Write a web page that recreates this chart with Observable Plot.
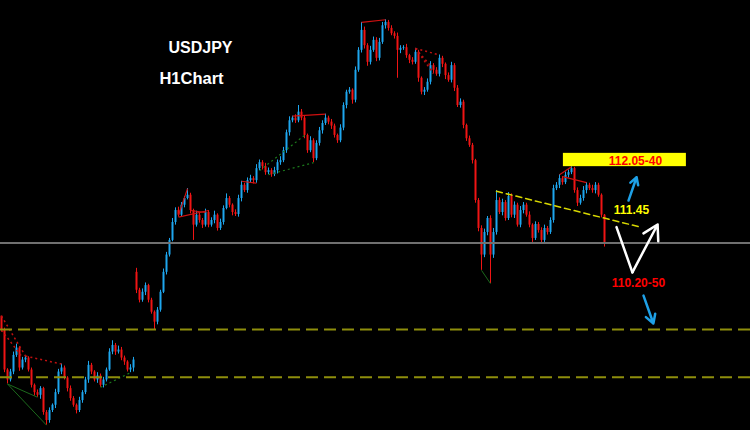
<!DOCTYPE html>
<html>
<head>
<meta charset="utf-8">
<script src="https://cdn.jsdelivr.net/npm/d3@7"></script>
<script src="https://cdn.jsdelivr.net/npm/@observablehq/plot@0.6"></script>
<style>
  html, body { margin: 0; padding: 0; background: #000; }
  #chart { width: 750px; height: 430px; overflow: hidden; }
</style>
</head>
<body>
<div id="chart"></div>
<script>
// USDJPY hourly closes, one per candle
const close = [
  109.65,109.05,108.90,109.02,109.27,109.38,109.08,109.20,109.23,109.05,
  108.82,108.71,108.67,108.77,108.41,108.29,108.44,108.52,108.71,109.02,
  109.08,108.93,108.77,108.62,108.52,108.44,108.59,108.71,108.90,109.12,
  109.02,108.90,108.96,108.82,108.90,109.05,109.32,109.42,109.32,109.35,
  109.23,109.17,109.05,109.08,109.20,110.25,110.10,110.22,110.32,110.10,
  109.92,109.77,109.95,110.22,110.52,110.78,111.00,111.27,111.45,111.38,
  111.53,111.63,111.68,111.45,111.23,111.38,111.30,111.23,111.42,111.23,
  111.30,111.38,111.18,111.27,111.48,111.63,111.53,111.42,111.39,111.63,
  111.83,111.75,111.90,111.93,111.90,112.08,112.17,112.11,112.02,112.05,
  111.99,112.05,112.17,112.20,112.35,112.62,112.80,112.84,112.80,112.93,
  112.84,112.58,112.35,112.50,112.23,112.46,112.65,112.76,112.84,112.78,
  112.72,112.58,112.50,112.69,113.03,113.23,113.26,113.11,113.56,113.86,
  114.16,113.93,113.68,113.86,114.01,113.74,113.98,114.23,114.28,114.19,
  114.11,114.07,113.86,113.89,113.90,113.78,113.71,113.68,113.83,113.44,
  113.23,113.26,113.38,113.63,113.56,113.50,113.74,113.65,113.48,113.41,
  113.63,113.29,113.03,113.08,112.73,112.53,112.43,112.20,111.60,111.18,
  110.78,111.12,111.33,110.78,111.12,111.60,111.42,111.57,111.33,111.66,
  111.38,111.53,111.23,111.45,111.53,111.38,111.23,111.03,111.24,111.15,
  111.00,111.18,111.12,111.30,111.78,111.83,111.93,111.87,111.98,112.02,
  112.08,111.75,111.56,111.63,111.75,111.83,111.78,111.75,111.83,111.68,
  111.38,110.96
];

// Upper / lower wick lengths in pips (0.01 JPY)
const upperWick = [
  0,3,2,4,5,6,2,4,3,2, 3,2,4,3,2,3,4,2,5,4, 6,3,2,4,3,2,5,3,4,6,
  3,2,5,3,4,3,5,7,3,6, 4,3,2,5,4,6,3,5,4,2, 3,2,4,3,5,4,3,6,4,5,
  4,3,10,3,2,6,4,3,5,3, 4,6,2,5,4,7,3,2,4,5, 6,3,4,5,3,6,4,3,5,4,
  3,5,4,6,5,4,6,3,5,10, 4,3,2,6,3,4,5,4,6,3, 4,3,2,5,4,3,4,2,5,4,
  12,5,3,6,5,4,6,5,4,3, 4,3,5,4,3,5,2,4,6,3, 2,4,5,6,3,4,5,3,2,4,
  5,3,4,5,3,2,4,3,2,3, 4,5,3,4,6,15,4,5,3,6, 4,5,3,6,4,3,5,2,4,3,
  4,5,3,4,5,4,6,3,5,4, 3,2,4,5,6,4,3,5,4,3, 2,1
];
const lowerWick = [
  3,4,6,3,4,3,5,3,4,3, 4,5,3,6,4,7,4,3,5,3, 4,3,5,4,3,5,3,4,3,5,
  4,3,5,3,4,3,2,4,5,3, 4,5,3,4,6,5,4,3,5,4, 3,12,4,3,2,4,3,2,4,3,
  3,4,2,5,23,3,4,5,3,4, 3,5,4,3,4,2,4,5,3,4, 5,3,4,3,5,4,3,5,4,3,
  4,3,5,4,3,4,5,3,4,3, 4,5,4,3,6,3,4,5,3,4, 5,4,4,3,4,5,3,6,4,3,
  4,5,6,4,3,5,4,3,5,4, 3,4,42,5,3,4,5,4,3,6, 4,5,3,4,5,3,4,5,6,3,
  4,5,3,4,5,4,3,5,4,5, 23,4,5,43,5,4,3,5,4,3, 4,5,3,4,5,3,4,6,3,4,
  5,3,4,3,4,3,5,4,3,4, 3,4,5,3,4,5,3,4,5,3, 4,6
];

// First open and the Monday gap open
const firstOpen = 109.86;
const gapIndex = [45];
const gapOpen = [110.52];

// Horizontal levels
const pivotLevel = [110.96];
const supportLevels = [109.66, 108.94];

// Descending trend line (candle index, price)
const trendIndex = [165, 213];
const trendPrice = [111.74, 111.20];

// Zigzag swing segments: [from candle, from side, to candle, to side]
const redSwings = [
  [59, "l", 69, "h"], [59, "c", 62, "h"], [63, "c", 68, "c"],
  [80, "h", 85, "l"], [97, "h", 108, "h"],
  [120, "h", 128, "h"], [186, "h", 190, "h"], [187, "h", 195, "h"]
];
const redDotted = [
  [0, "h", 8, "h"], [0, "c", 7, "h"], [8, "h", 20, "h"],
  [138, "h", 146, "h"], [138, "h", 143, "c"], [138, "h", 144, "l"]
];
const greenSwings = [[2, "l", 15, "l"], [2, "l", 12, "l"], [160, "l", 163, "l"]];
const greenDotted = [[33, "l", 43, "l"], [86, "l", 101, "c"], [89, "l", 104, "l"]];

// Scenario annotations
const targetBox = {x1: 187.3, x2: 228.3, y1: 112.11, y2: 112.31};
const upperTarget = {text: "112.05-40", i: 211.3, price: 112.20};
const pivotLabel = {text: "111.45", i: 210.0, price: 111.45};
const lowerTarget = {text: "110.20-50", i: 212.3, price: 110.35};
const vPath = {i: [205, 210.3, 218.7], price: [111.20, 110.52, 111.24]};
const blueUp = {i1: 209, p1: 111.60, i2: 211.7, p2: 111.95};
const blueDown = {i1: 214, p1: 110.17, i2: 217.3, p2: 109.75};

// Build the candles
const candles = close.map((c, i) => {
  const g = gapIndex.indexOf(i);
  const open = i === 0 ? firstOpen : g >= 0 ? gapOpen[g] : close[i - 1];
  const high = Math.max(open, c) + upperWick[i] / 100;
  const low = Math.min(open, c) - lowerWick[i] / 100;
  return {i, open, close: c, high, low, up: c >= open};
});

const pick = (k, s) => s === "h" ? candles[k].high : s === "l" ? candles[k].low : candles[k].close;
const toLinks = (segs) => segs.map(([a, sa, b, sb]) => ({x1: a, y1: pick(a, sa), x2: b, y2: pick(b, sb)}));

const UP = "#1ea6ee";
const DOWN = "#f01414";
const font = "Liberation Sans, Arial, sans-serif";

const chart = Plot.plot({
  width: 750,
  height: 430,
  margin: 0,
  style: {background: "#000", fontFamily: font},
  x: {type: "linear", domain: [0, 249], range: [1, 748], axis: null},
  y: {domain: [108.14, 114.61], axis: null},
  marks: [
    // wicks
    Plot.ruleX(candles, {x: "i", y1: "low", y2: "high", stroke: d => d.up ? UP : DOWN, strokeWidth: 1}),
    // bodies
    Plot.ruleX(candles, {x: "i", y1: "open", y2: "close", stroke: d => d.up ? UP : DOWN, strokeWidth: 2}),
    // swing structure
    Plot.link(toLinks(redSwings), {x1: "x1", y1: "y1", x2: "x2", y2: "y2", stroke: "#d01010", strokeWidth: 1.2}),
    Plot.link(toLinks(redDotted), {x1: "x1", y1: "y1", x2: "x2", y2: "y2", stroke: "#c01010", strokeWidth: 1.5, strokeDasharray: "2,3"}),
    Plot.link(toLinks(greenSwings), {x1: "x1", y1: "y1", x2: "x2", y2: "y2", stroke: "#1c6a1c", strokeWidth: 1}),
    Plot.link(toLinks(greenDotted), {x1: "x1", y1: "y1", x2: "x2", y2: "y2", stroke: "#1c7a1c", strokeWidth: 1.2, strokeDasharray: "2,3"}),
    // levels
    Plot.ruleY(pivotLevel, {stroke: "#707070", strokeWidth: 2}),
    Plot.ruleY(supportLevels, {stroke: "#8e8e0c", strokeWidth: 2, strokeDasharray: "12,6"}),
    Plot.line(trendIndex.map((t, k) => ({i: t, p: trendPrice[k]})), {x: "i", y: "p", stroke: "#d8d800", strokeWidth: 1.5, strokeDasharray: "6,4"}),
    // target box
    Plot.rect([targetBox], {x1: "x1", x2: "x2", y1: "y1", y2: "y2", fill: "#ffff00"}),
    Plot.text([upperTarget], {x: "i", y: "price", text: "text", fill: "#ff0000", fontSize: 12, fontWeight: "bold"}),
    Plot.text([pivotLabel], {x: "i", y: "price", text: "text", fill: "#ffff00", fontSize: 12, fontWeight: "bold"}),
    Plot.text([lowerTarget], {x: "i", y: "price", text: "text", fill: "#ff0000", fontSize: 12, fontWeight: "bold"}),
    // scenario arrows
    Plot.line(vPath.i.slice(0, 2).map((t, k) => ({i: t, p: vPath.price[k]})), {x: "i", y: "p", stroke: "#ffffff", strokeWidth: 2.5}),
    Plot.arrow([{i1: vPath.i[1], p1: vPath.price[1], i2: vPath.i[2], p2: vPath.price[2]}], {x1: "i1", y1: "p1", x2: "i2", y2: "p2", stroke: "#ffffff", strokeWidth: 2.5, headLength: 10}),
    Plot.arrow([blueUp], {x1: "i1", y1: "p1", x2: "i2", y2: "p2", stroke: "#1ea0e6", strokeWidth: 2.5, headLength: 9}),
    Plot.arrow([blueDown], {x1: "i1", y1: "p1", x2: "i2", y2: "p2", stroke: "#1ea0e6", strokeWidth: 2.5, headLength: 9}),
    // titles
    Plot.text(["USDJPY"], {frameAnchor: "top-left", dx: 200, dy: 41, text: d => d, fill: "#ffffff", fontSize: 16, fontWeight: "bold", textAnchor: "middle"}),
    Plot.text(["H1Chart"], {frameAnchor: "top-left", dx: 191, dy: 72, text: d => d, fill: "#ffffff", fontSize: 16.5, fontWeight: "bold", textAnchor: "middle"})
  ]
});

document.getElementById("chart").appendChild(chart);
</script>
</body>
</html>
